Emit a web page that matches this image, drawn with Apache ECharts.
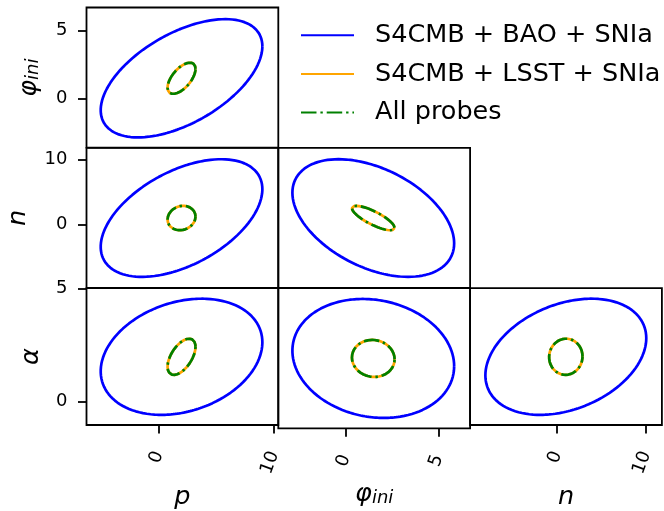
<!DOCTYPE html>
<html>
<head>
<meta charset="utf-8">
<script src="https://cdn.jsdelivr.net/npm/echarts@6/dist/echarts.min.js"></script>
<style>
  html, body { margin: 0; padding: 0; background: #fff; }
  #chart { width: 664px; height: 511px; }
</style>
</head>
<body>
<div id="chart"></div>
<script>
// ---- data ----
const paramLabels = ['{m|p}', '{m|φ}{s|ini}', '{m|n}', '{m|α}'];
const axisMin = [-6.23, -3.63, -9.8, -1.05];
const axisMax = [10.38, 6.71, 11.8, 5.01];
const tickValues = [[0, 10], [0, 5], [0, 10], [0, 5]];
const fiducial = [2.0, 1.49, 0.98, 1.97];

const seriesNames = ['S4CMB + BAO + SNIa', 'S4CMB + LSST + SNIa', 'All probes'];
// half-extent of each 1-sigma contour along each parameter
const halfExtentBAO = [7.0, 4.36, 9.06, 2.57];
const halfExtentLSST = [1.21, 1.15, 1.88, 0.80];
const halfExtentAll = [1.21, 1.15, 1.88, 0.80];
// panel pairs [x param, y param] and correlation in each panel
const panelPairs = [[0, 1], [0, 2], [1, 2], [0, 3], [1, 3], [2, 3]];
const panelRowCol = [[0, 0], [1, 0], [1, 1], [2, 0], [2, 1], [2, 2]];
const corrBAO = [0.54, 0.49, -0.43, 0.25, -0.13, 0.32];
const corrLSST = [0.60, 0.12, -0.80, 0.55, -0.05, 0.02];
const corrAll = [0.60, 0.12, -0.80, 0.55, -0.05, 0.02];

// ---- layout / style ----
const colLeft = [86.5, 278.3, 470.1];
const rowTop = [7.5, 147.8, 288.1];
const cellW = 191.8, cellH = 140.2;
const FONT = 'DejaVu Sans';
const colors = ['#0000ff', '#ffa500', '#008000'];
const lineTypes = ['solid', 'solid', [15.5, 3.9, 2.4, 3.9]];

function contour(cx, cy, hx, hy, rho) {
  const pts = [];
  const s = Math.sqrt(1 - rho * rho);
  const N = 240;
  for (let i = 0; i <= N; i++) {
    const t = 2 * Math.PI * i / N;
    pts.push([cx + hx * Math.cos(t), cy + hy * (rho * Math.cos(t) + s * Math.sin(t))]);
  }
  return pts;
}

const nameRich = {
  m: { fontFamily: FONT, fontStyle: 'italic', fontSize: 25.5, color: '#000' },
  s: { fontFamily: FONT, fontStyle: 'italic', fontSize: 18, color: '#000', verticalAlign: 'bottom', lineHeight: 10 }
};
const yNameGap = [44, 55, 42];
const xNameGap = [59, 53, 59];

const grids = [], xAxes = [], yAxes = [], series = [];
panelPairs.forEach((pair, k) => {
  const [xi, yi] = pair;
  const [row, col] = panelRowCol[k];
  grids.push({
    left: colLeft[col], top: rowTop[row], width: cellW, height: cellH,
    show: true, borderColor: '#000', borderWidth: 1.8, backgroundColor: 'transparent'
  });
  const bottom = row === 2, left = col === 0;
  xAxes.push({
    type: 'value', gridIndex: k, min: axisMin[xi], max: axisMax[xi], position: 'bottom',
    axisLine: { show: false, onZero: false }, splitLine: { show: false },
    axisTick: { show: bottom, length: 8.5, lineStyle: { color: '#000', width: 1.8 }, customValues: tickValues[xi] },
    axisLabel: { show: bottom, customValues: tickValues[xi], rotate: 70, margin: 27,
      fontFamily: FONT, fontSize: 18, color: '#000' },
    name: bottom ? paramLabels[xi] : '', nameLocation: 'middle', nameGap: xNameGap[col],
    nameTextStyle: { rich: nameRich }
  });
  yAxes.push({
    type: 'value', gridIndex: k, min: axisMin[yi], max: axisMax[yi], position: 'left',
    axisLine: { show: false, onZero: false }, splitLine: { show: false },
    axisTick: { show: left, length: 8.5, lineStyle: { color: '#000', width: 1.8 }, customValues: tickValues[yi] },
    axisLabel: { show: left, customValues: tickValues[yi], margin: 19,
      fontFamily: FONT, fontSize: 18, color: '#000' },
    name: left ? paramLabels[yi] : '', nameLocation: 'middle', nameRotate: 90, nameGap: yNameGap[row],
    nameTextStyle: { rich: nameRich }
  });
  const ext = [halfExtentBAO, halfExtentLSST, halfExtentAll];
  const cor = [corrBAO, corrLSST, corrAll];
  for (let s = 0; s < 3; s++) {
    series.push({
      type: 'line', name: seriesNames[s], xAxisIndex: k, yAxisIndex: k,
      data: contour(fiducial[xi], fiducial[yi], ext[s][xi], ext[s][yi], cor[s][k]),
      symbol: 'none', showSymbol: false, silent: true, z: 2 + s,
      lineStyle: { color: colors[s], width: 2.7, type: lineTypes[s], cap: 'butt' },
      itemStyle: { color: colors[s] }
    });
  }
});

const chart = echarts.init(document.getElementById('chart'), null, { renderer: 'canvas' });
chart.setOption({
  animation: false,
  backgroundColor: '#fff',
  legend: {
    data: seriesNames, orient: 'vertical', left: 300, top: 22.2, padding: 0,
    itemWidth: 53, itemHeight: 14, itemGap: 12.7,
    itemStyle: { color: 'rgba(0,0,0,0)', borderColor: 'rgba(0,0,0,0)', borderWidth: 0, opacity: 0 },
    textStyle: { fontFamily: FONT, fontSize: 25.5, color: '#000', padding: [0, 0, 0, 16] },
    selectedMode: false
  },
  grid: grids, xAxis: xAxes, yAxis: yAxes, series: series
});
</script>
</body>
</html>
